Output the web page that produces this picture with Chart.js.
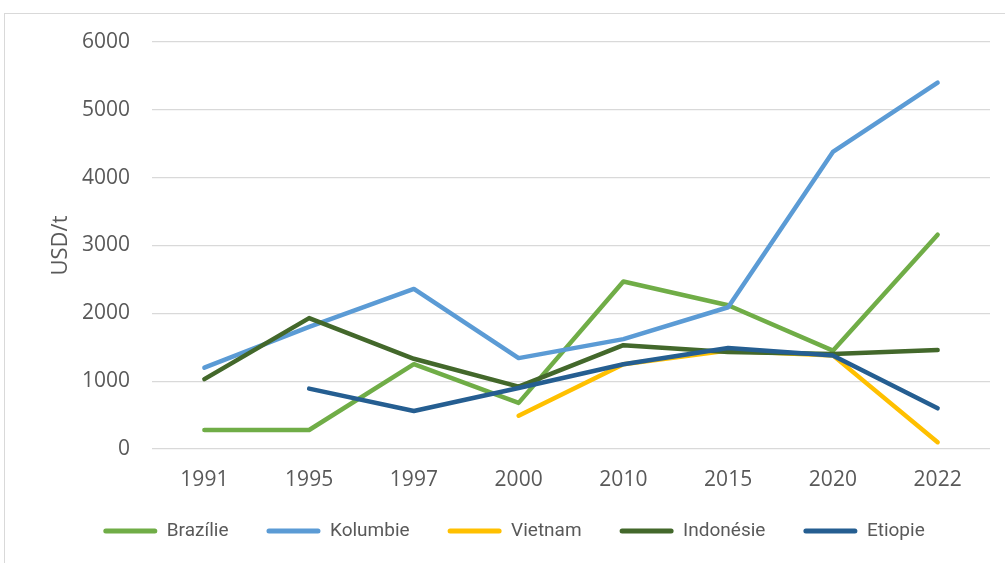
<!DOCTYPE html>
<html>
<head>
<meta charset="utf-8">
<script src="https://cdn.jsdelivr.net/npm/chart.js@4"></script>
<style>
  body { margin: 0; background: #fff; overflow: hidden; }
  #wrap { position: relative; width: 1005px; height: 563px; }
  #frame { position: absolute; left: 4px; top: 13px; width: 1010px; height: 560px; border: 1px solid #d9d9d9; }
  canvas { position: absolute; left: 0; top: 0; }
</style>
</head>
<body>
<div id="wrap">
  <div id="frame"></div>
  <canvas id="myChart" width="1005" height="563"></canvas>
</div>
<script>
// roky a ceny kávy (USD/t)
var years = ['1991', '1995', '1997', '2000', '2010', '2015', '2020', '2022'];
var brazilie  = [280, 280, 1250, 680, 2470, 2120, 1450, 3160];
var kolumbie  = [1200, 1800, 2360, 1340, 1620, 2090, 4380, 5400];
var vietnam   = [null, null, null, 490, 1250, 1450, 1380, 100];
var indonesie = [1030, 1930, 1330, 920, 1530, 1430, 1400, 1460];
var etiopie   = [null, 890, 560, 900, 1250, 1490, 1380, 600];

var names  = ['Brazílie', 'Kolumbie', 'Vietnam', 'Indonésie', 'Etiopie'];
var colors = ['#70AD47', '#5B9BD5', '#FFC000', '#43682B', '#255E91'];
var series = [brazilie, kolumbie, vietnam, indonesie, etiopie];

var tickFont = { family: "'Open Sans'", size: 21 };

var dataObj = {
    type: 'line',
    data: {
        labels: years,
        datasets: series.map(function(values, i) {
            return {
                label: names[i],
                data: values,
                borderColor: colors[i],
                backgroundColor: colors[i],
                borderWidth: 4.5,
                borderCapStyle: 'round',
                borderJoinStyle: 'round',
                pointRadius: 0,
                tension: 0,
                order: series.length - i
            };
        })
    },
    options: {
        responsive: false,
        animation: false,
        layout: { padding: { top: 42, right: 15, left: 38, bottom: 12.5 } },
        scales: {
            x: {
                offset: true,
                grid: { display: false, drawTicks: false },
                border: { display: false },
                // mirror = labels are not clipped to the (short) axis box
                ticks: { color: '#595959', font: tickFont, mirror: true, padding: -44, maxRotation: 0 },
                afterFit: function(s) { s.height = 34.5; }
            },
            y: {
                min: 0,
                max: 6000,
                grid: { color: '#d9d9d9', lineWidth: 1.3, drawTicks: false },
                border: { display: false },
                ticks: {
                    stepSize: 1000, color: '#595959', font: tickFont, padding: 22,
                    callback: function(v) { return String(v); }
                },
                title: {
                    display: true,
                    text: 'USD/t',
                    color: '#595959',
                    font: { family: "'Open Sans'", size: 22 },
                    padding: { top: 10, bottom: 0 }
                },
                afterFit: function(s) { s.width = 114; }
            }
        },
        plugins: {
            tooltip: { enabled: false },
            legend: {
                position: 'bottom',
                labels: {
                    color: '#595959',
                    font: { family: "Roboto", size: 19 },
                    boxWidth: 54,
                    boxHeight: 5,
                    padding: 38,
                    useBorderRadius: true,
                    borderRadius: 2.5,
                    sort: function(a, b) { return a.datasetIndex - b.datasetIndex; },
                    generateLabels: function(chart) {
                        return Chart.defaults.plugins.legend.labels.generateLabels(chart).map(function(l) {
                            l.lineWidth = 0;
                            l.fillStyle = l.strokeStyle;
                            return l;
                        });
                    }
                }
            }
        }
    }
};
var ctx = document.getElementById('myChart').getContext('2d');
window.myLine = new Chart(ctx, dataObj);
</script>
</body>
</html>
